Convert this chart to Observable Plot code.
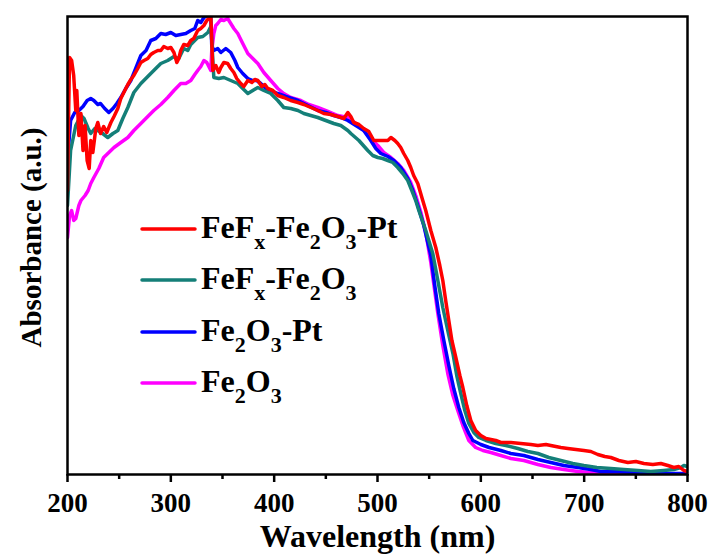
<!DOCTYPE html>
<html><head><meta charset="utf-8">
<script src="https://cdn.jsdelivr.net/npm/d3@7"></script>
<script src="https://cdn.jsdelivr.net/npm/@observablehq/plot@0.6"></script>
<style>body{margin:0;background:#fff}#chart{width:710px;height:556px}</style>
</head><body><div id="chart"></div>
<script>
// [wavelength (nm), absorbance (a.u.)]
const fefxFe2o3Pt = [[200,284],[201,354],[202,417],[204,414],[206,399],[208,364],[209,384],[211,339],[213,361],[215,324],[217,349],[219,314],[221,306],[222.5,334],[224.5,322],[227.4,346],[229.3,352],[232,341],[235,348],[238,342],[242,352],[245,358],[248.7,366],[251.6,376],[254.5,382],[258.4,390],[261.3,395],[264.2,399],[268,406],[271,412],[274,414],[277.7,416],[280.6,420],[283.5,422],[287.4,424],[290.3,424],[293.2,428],[297,426],[300,427],[303,422],[305.8,412],[307.7,416],[309.6,424],[312.5,430],[316.4,429],[319.3,434],[322.2,436],[326,444],[329,446],[332,449],[334.8,454],[336.7,456],[338.7,458],[339.6,434],[340.6,404],[343.5,409],[346.4,402],[348.4,407],[351.3,412],[355,411],[358,406],[361,402],[363.8,396],[367.7,391],[370.6,388],[374.5,394],[378.4,392],[381.3,395],[384.2,394],[388,388],[391,390],[393.8,386],[398.7,384],[403.5,379],[409.3,377],[416,374],[423,372],[428.7,370],[435.5,367],[442.2,364],[448,361],[454.8,360],[461.6,358],[467.4,356],[471.3,362],[474.2,358],[477,352],[482,350],[486.7,346],[491.6,343],[496.4,334],[503.2,334],[510,334],[513,337],[516.8,334],[519.6,331],[522.5,327],[525.4,321],[529.3,314],[532.2,307],[535,299],[539,291],[543.8,274],[546.7,264],[551.6,244],[556.4,227],[560.3,209],[563.2,194],[566,174],[569,154],[572,134],[575.8,117],[579.7,99],[582.6,87],[586.4,69],[590.3,54],[595,44],[600,39],[605,36],[609.7,35],[614.5,34],[619.4,32],[629,32],[638.7,31],[648.4,30],[655.2,29],[663,30],[667.7,29],[677.4,27],[684.2,26],[692,25],[699.7,24],[706.5,23],[713.2,20],[720,18],[725.8,17],[733.6,14],[742.3,12],[750,13],[757.8,11],[766.5,10],[774.2,11],[781,9],[786.8,7],[791.6,8],[796.5,4],[800,3]];
const fefxFe2o3 = [[200,269],[203,324],[208,349],[213,359],[216,356],[220,346],[222.5,341],[226.4,346],[229.3,344],[234,341],[239,337],[244,341],[248.7,344],[253.5,356],[258.4,367],[264.2,382],[271,391],[277.7,398],[283.5,404],[290.3,411],[297,414],[303,418],[307.7,416],[312.5,426],[316.4,424],[319.3,430],[326,437],[331,438],[335.8,442],[338.7,448],[339.6,434],[341.6,397],[346.4,396],[351.3,397],[358,394],[364.8,391],[369.6,386],[374.5,381],[379.3,384],[384.2,387],[390,384],[396.7,381],[403.5,374],[409.3,367],[416,366],[423,364],[428.7,361],[442.2,357],[457.7,351],[464.5,349],[471.3,344],[474.2,341],[482,334],[490.6,324],[495.4,319],[500.3,317],[505,316],[510,314],[514.8,312],[519.6,307],[524.5,301],[529.3,294],[533.2,284],[537,274],[540,264],[546.7,244],[553.5,221],[558.4,194],[563.2,167],[568,144],[573,121],[576.7,99],[580.6,81],[584.5,64],[588.4,51],[593.2,42],[598,37],[605,34],[614.5,31],[624.2,29],[635.8,26],[645.5,23],[655.2,21],[665.8,17],[677.4,14],[689,11],[699.7,9],[712.3,7],[725.8,6],[738.4,5],[752,4],[764.5,3],[777,4],[786.8,5],[793.6,7],[796.5,9],[800,8]];
const fe2o3Pt = [[200,314],[203,354],[207,362],[211,364],[215,368],[219,374],[222.5,376],[225.5,374],[229.3,370],[232,371],[236,366],[240,362],[244,366],[247.7,371],[251.6,377],[256.4,386],[261.3,394],[266,406],[271,419],[276,424],[280.6,434],[285.5,436],[290.3,441],[295,440],[300,442],[304.8,439],[309.6,440],[314.5,441],[319.3,444],[323.2,446],[326,454],[329,452],[332,457],[335.8,459],[338.7,457],[339.6,429],[341.6,424],[345.4,426],[348.4,422],[353.2,426],[358,422],[362,414],[364.8,407],[369.6,401],[374.5,396],[379.3,394],[383.2,394],[387,391],[392,386],[396.7,384],[403.5,381],[411.3,378],[423,374],[432.6,369],[442.2,364],[450,362],[457.7,359],[464.5,357],[471.3,354],[479,349],[486.7,344],[493.5,334],[498.4,326],[503.2,321],[510,318],[515.8,314],[522.5,307],[529.3,296],[534.2,284],[539,269],[544.8,249],[551.6,219],[555.4,189],[559.3,161],[564.2,134],[569,109],[573.8,86],[578.7,67],[583.5,52],[588.4,41],[592.3,34],[600,30],[608,27],[619.4,24],[629,21],[641.6,19],[655.2,15],[667.7,12],[680.3,9],[694,7],[706.5,5],[716,3],[730.7,3],[748,2],[764.5,1],[781,1],[800,1]];
const fe2o3 = [[200,237],[202,259],[204,264],[206,254],[208,256],[211,269],[213,274],[217,279],[220,284],[222.5,291],[225.5,297],[230.3,306],[235,317],[240,322],[245,327],[251.6,332],[258.4,337],[264.2,344],[271,351],[277.7,358],[283.5,364],[290.3,370],[297,377],[303,384],[309.6,391],[314.5,391],[319.3,394],[323.2,400],[326,404],[329,408],[332,414],[334.8,412],[338.7,404],[339.6,424],[341.6,441],[343.5,449],[345.4,451],[348.4,455],[351.3,454],[355,456],[358,451],[361,446],[364.8,441],[369.6,431],[374.5,421],[379.3,416],[384.2,411],[390,402],[396.7,394],[403.5,386],[409.3,381],[416,377],[425.8,374],[433.5,370],[442.2,367],[452,363],[461.6,359],[471.3,357],[479,351],[486.7,344],[493.5,336],[500.3,329],[506,322],[513,317],[519.6,311],[525.4,304],[532.2,292],[537,279],[542,262],[546.7,242],[551.6,212],[558.4,161],[563.2,129],[568,101],[573,79],[577.7,64],[582.6,49],[588.4,34],[595,27],[602,24],[609.7,22],[619.4,19],[629,16],[641.6,14],[655.2,10],[667.7,7],[680.3,5],[694,3],[706.5,2],[716,1],[732.6,1],[748,0],[800,0]];

const seriesNames = ["FeFx-Fe2O3-Pt", "FeFx-Fe2O3", "Fe2O3-Pt", "Fe2O3"];
const seriesColors = ["#ff0000", "#147f78", "#0000ff", "#ff00ff"];
const seriesData = [fefxFe2o3Pt, fefxFe2o3, fe2o3Pt, fe2o3];
const majorTicks = [200, 300, 400, 500, 600, 700, 800];
const minorTicks = [250, 350, 450, 550, 650, 750];
const xLabel = "Wavelength (nm)";
const yLabel = "Absorbance (a.u.)";
// legend labels: [text, isSubscript]
const legendParts = [
  [["FeF",0],["x",1],["-Fe",0],["2",1],["O",0],["3",1],["-Pt",0]],
  [["FeF",0],["x",1],["-Fe",0],["2",1],["O",0],["3",1]],
  [["Fe",0],["2",1],["O",0],["3",1],["-Pt",0]],
  [["Fe",0],["2",1],["O",0],["3",1]]
];

const FONT = "'Liberation Serif','Times New Roman',Times,serif";
const drawOrder = [3, 2, 1, 0];
const lineMarks = drawOrder.map(i => Plot.line(
  seriesData[i].map(([nm, a]) => ({nm, a, s: seriesNames[i]})),
  {x: "nm", y: "a", stroke: seriesColors[i], strokeWidth: 3.5, clip: true}
));

const chart = Plot.plot({
  width: 710, height: 556,
  marginLeft: 67, marginRight: 23, marginTop: 16, marginBottom: 82,
  style: {fontFamily: FONT, fontWeight: "bold", background: "#fff", color: "#000"},
  x: {domain: [200, 800]},
  y: {domain: [0, 458]},
  marks: [
    ...lineMarks,
    Plot.axisX({ticks: minorTicks, tickSize: 5, strokeWidth: 2.5, tickFormat: () => "", label: null}),
    Plot.axisX({ticks: majorTicks, tickSize: 8, strokeWidth: 2.5, tickPadding: 10, fontSize: 27, label: null, fill: "#000"}),
    Plot.axisY({ticks: [], label: null}),
    Plot.frame({stroke: "#000", strokeWidth: 2.5}),
    Plot.text([xLabel], {frameAnchor: "bottom", dy: 72, fontSize: 32, fontWeight: "bold", fill: "#000"}),
    Plot.text([yLabel], {frameAnchor: "left", textAnchor: "middle", rotate: -90, dx: -36, dy: -8, fontSize: 29, fontWeight: "bold", fill: "#000"})
  ]
});
document.getElementById("chart").appendChild(chart);

// legend drawn inside the SVG
const svg = d3.select(chart);
const legendY = [229, 280, 332, 383];
const lg = svg.append("g").attr("font-family", FONT).attr("font-weight", "bold").attr("text-anchor", "start");
seriesNames.forEach((name, i) => {
  const y = legendY[i];
  lg.append("line").attr("x1", 142).attr("x2", 195).attr("y1", y).attr("y2", y)
    .attr("stroke", seriesColors[i]).attr("stroke-width", 3.5).attr("stroke-linecap", "round");
  const t = lg.append("text").attr("x", 201).attr("y", y + 9).attr("font-size", 32).attr("fill", "#000").attr("text-anchor", "start");
  let shifted = false;
  legendParts[i].forEach(([txt, sub]) => {
    const ts = t.append("tspan").text(txt);
    if (sub && !shifted) { ts.attr("dy", 11).attr("font-size", 22); shifted = true; }
    else if (sub) { ts.attr("font-size", 22); }
    else if (shifted) { ts.attr("dy", -11); shifted = false; }
  });
});
</script></body></html>
